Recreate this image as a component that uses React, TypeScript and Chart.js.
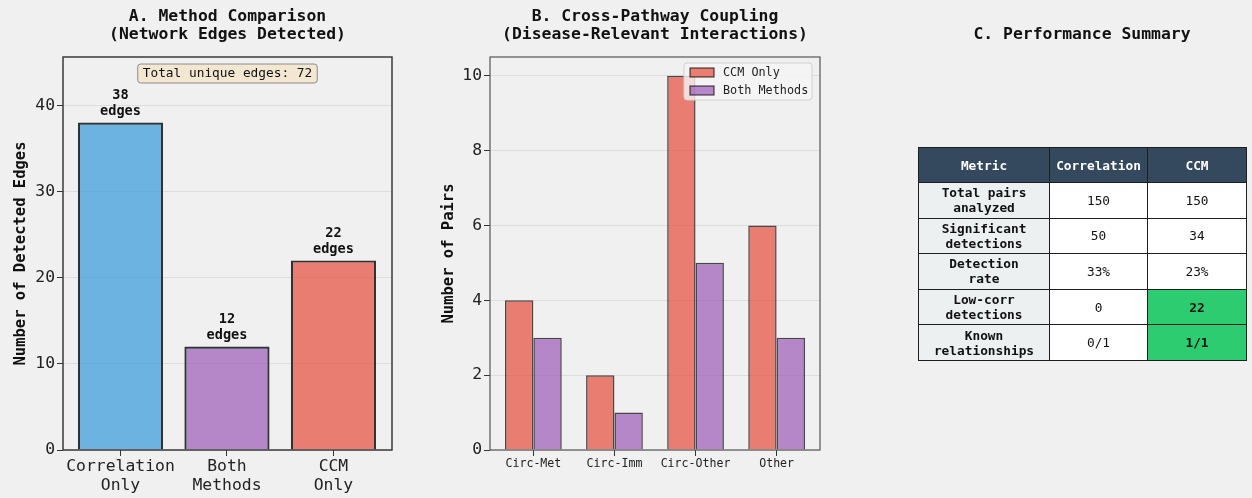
import React, { useEffect, useRef } from "react";
import { Chart, registerables } from "chart.js";

Chart.register(...registerables);

const MONO = '"DejaVu Sans Mono", monospace';
const BG = "#f0f0f0";

// Panel A: edges found by each method
const methodLabels = [["Correlation", "Only"], ["Both", "Methods"], ["CCM", "Only"]];
const methodEdges = [38, 12, 22];
const methodColors = ["rgba(52,152,219,0.7)", "rgba(155,89,182,0.7)", "rgba(231,76,60,0.7)"];
const totalUniqueEdges = 72;

// Panel B: cross-pathway pairs
const pathwayLabels = ["Circ-Met", "Circ-Imm", "Circ-Other", "Other"];
const ccmOnlyPairs = [4, 2, 10, 6];
const bothMethodsPairs = [3, 1, 5, 3];
const seriesNames = ["CCM Only", "Both Methods"];
const seriesColors = ["rgba(231,76,60,0.7)", "rgba(155,89,182,0.7)"];

// Panel C: summary table
const tableHeader = ["Metric", "Correlation", "CCM"];
const tableMetrics = [
  ["Total pairs", "analyzed"],
  ["Significant", "detections"],
  ["Detection", "rate"],
  ["Low-corr", "detections"],
  ["Known", "relationships"],
];
const correlationValues = ["150", "50", "33%", "0", "0/1"];
const ccmValues = ["150", "34", "23%", "22", "1/1"];
const ccmHighlight = [false, false, false, true, true];

// Frame, two-line title and rotated y label for each panel
const panelDecor = {
  id: "panelDecor",
  afterDraw(chart: any, _args: any, opts: any) {
    const { ctx, chartArea: ca } = chart;
    ctx.save();
    ctx.strokeStyle = opts.frameColor;
    ctx.lineWidth = opts.frameWidth;
    ctx.strokeRect(ca.left, ca.top, ca.right - ca.left, ca.bottom - ca.top);
    ctx.fillStyle = "#111";
    ctx.textAlign = "center";
    ctx.textBaseline = "middle";
    ctx.font = `bold 16.4px ${MONO}`;
    const cx = (ca.left + ca.right) / 2;
    (opts.title as string[]).forEach((line, i) => ctx.fillText(line, cx, 17 + i * 18));
    ctx.font = `bold ${opts.yLabelSize}px ${MONO}`;
    ctx.translate(opts.yLabelX, (ca.top + ca.bottom) / 2);
    ctx.rotate(-Math.PI / 2);
    ctx.fillText(opts.yLabel, 0, 0);
    ctx.restore();
  },
};

// Value labels above bars and the total box (panel A)
const edgeAnnotations = {
  id: "edgeAnnotations",
  afterDatasetsDraw(chart: any) {
    const { ctx, chartArea: ca } = chart;
    const meta = chart.getDatasetMeta(0);
    ctx.save();
    ctx.fillStyle = "#111";
    ctx.textAlign = "center";
    ctx.textBaseline = "middle";
    ctx.font = `bold 13.6px ${MONO}`;
    meta.data.forEach((bar: any, i: number) => {
      ctx.fillText(String(methodEdges[i]), bar.x, bar.y - 27);
      ctx.fillText("edges", bar.x, bar.y - 11);
    });
    const text = `Total unique edges: ${totalUniqueEdges}`;
    ctx.font = `12.8px ${MONO}`;
    const w = ctx.measureText(text).width + 10;
    const h = 19;
    const cx = (ca.left + ca.right) / 2;
    const y = ca.top + 7;
    ctx.beginPath();
    ctx.roundRect(cx - w / 2, y, w, h, 3);
    ctx.fillStyle = "rgba(245,222,179,0.5)";
    ctx.fill();
    ctx.strokeStyle = "#8a8a8a";
    ctx.lineWidth = 1;
    ctx.stroke();
    ctx.fillStyle = "#111";
    ctx.fillText(text, cx, y + h / 2 + 0.5);
    ctx.restore();
  },
};

// Legend in the upper right of panel B's plot area
const insideLegend = {
  id: "insideLegend",
  afterDatasetsDraw(chart: any) {
    const { ctx, chartArea: ca } = chart;
    ctx.save();
    const x = ca.right - 136;
    const y = ca.top + 6;
    ctx.beginPath();
    ctx.roundRect(x, y, 128, 37, 3);
    ctx.fillStyle = "rgba(245,245,245,0.8)";
    ctx.fill();
    ctx.strokeStyle = "#d0d0d0";
    ctx.lineWidth = 1;
    ctx.stroke();
    ctx.font = `11.8px ${MONO}`;
    ctx.textAlign = "left";
    ctx.textBaseline = "middle";
    seriesNames.forEach((name, i) => {
      const ry = y + 5 + i * 18;
      ctx.fillStyle = seriesColors[i];
      ctx.fillRect(x + 6, ry, 24, 9);
      ctx.strokeStyle = "rgba(0,0,0,0.7)";
      ctx.lineWidth = 1.2;
      ctx.strokeRect(x + 6, ry, 24, 9);
      ctx.fillStyle = "#222";
      ctx.fillText(name, x + 39, ry + 4.5);
    });
    ctx.restore();
  },
};

function fixedAxis(prop: "width" | "height", size: number) {
  return (scale: any) => {
    scale[prop] = size;
  };
}

function MethodChart() {
  const ref = useRef<HTMLCanvasElement>(null);
  useEffect(() => {
    const chart = new Chart(ref.current!, {
      type: "bar",
      data: {
        datasets: [
          {
            data: methodEdges.map((v, i) => ({ x: i, y: v })),
            backgroundColor: methodColors,
            borderColor: "#2d3436",
            borderWidth: 2.2,
            categoryPercentage: 1,
            barPercentage: 0.8,
          },
        ],
      },
      options: {
        responsive: false,
        devicePixelRatio: 1,
        animation: false,
        layout: { padding: { top: 57, right: 28, left: 0, bottom: 0 } },
        plugins: {
          legend: { display: false },
          tooltip: { enabled: false },
          panelDecor: {
            title: ["A. Method Comparison", "(Network Edges Detected)"],
            yLabel: "Number of Detected Edges",
            yLabelX: 21,
            yLabelSize: 15.5,
            frameColor: "#3a3a3a",
            frameWidth: 1.5,
          },
        } as any,
        scales: {
          x: {
            type: "linear",
            offset: false,
            min: -0.54,
            max: 2.55,
            afterFit: fixedAxis("height", 48),
            afterBuildTicks: (scale: any) => {
              scale.ticks = methodLabels.map((_, i) => ({ value: i }));
            },
            grid: { offset: false, drawOnChartArea: false, tickColor: "#333", tickLength: 6 },
            border: { display: false },
            ticks: {
              callback: (v: any) => methodLabels[v as number],
              font: { family: MONO, size: 16.4, lineHeight: 1.15 },
              color: "#222",
              padding: 1,
              maxRotation: 0,
              autoSkip: false,
            },
          },
          y: {
            min: 0,
            max: 45.6,
            afterFit: fixedAxis("width", 63),
            grid: { color: "rgba(0,0,0,0.08)", tickColor: "#333", tickLength: 6 },
            border: { display: false },
            ticks: {
              stepSize: 10,
              includeBounds: false,
              font: { family: MONO, size: 16.4 },
              color: "#222",
              padding: 2,
            },
          },
        },
      },
      plugins: [panelDecor, edgeAnnotations],
    });
    return () => chart.destroy();
  }, []);
  return (
    <canvas
      ref={ref}
      width={420}
      height={498}
      style={{ position: "absolute", left: 0, top: 0, width: 420, height: 498 }}
    />
  );
}

function PathwayChart() {
  const ref = useRef<HTMLCanvasElement>(null);
  useEffect(() => {
    const series = [ccmOnlyPairs, bothMethodsPairs];
    const chart = new Chart(ref.current!, {
      type: "bar",
      data: {
        datasets: series.map((vals, s) => ({
          label: seriesNames[s],
          data: vals.map((v, i) => ({ x: i, y: v })),
          backgroundColor: seriesColors[s],
          borderColor: "rgba(0,0,0,0.7)",
          borderWidth: 1.5,
          categoryPercentage: 0.7,
          barPercentage: 1,
        })),
      },
      options: {
        responsive: false,
        devicePixelRatio: 1,
        animation: false,
        layout: { padding: { top: 57, right: 30, left: 0, bottom: 0 } },
        plugins: {
          legend: { display: false },
          tooltip: { enabled: false },
          panelDecor: {
            title: ["B. Cross-Pathway Coupling", "(Disease-Relevant Interactions)"],
            yLabel: "Number of Pairs",
            yLabelX: 29,
            yLabelSize: 15.5,
            frameColor: "#555",
            frameWidth: 1.2,
          },
        } as any,
        scales: {
          x: {
            type: "linear",
            offset: false,
            min: -0.535,
            max: 3.535,
            afterFit: fixedAxis("height", 48),
            afterBuildTicks: (scale: any) => {
              scale.ticks = pathwayLabels.map((_, i) => ({ value: i }));
            },
            grid: { offset: false, drawOnChartArea: false, tickColor: "#333", tickLength: 6 },
            border: { display: false },
            ticks: {
              callback: (v: any) => pathwayLabels[v as number],
              font: { family: MONO, size: 11.6 },
              color: "#222",
              padding: 1,
              maxRotation: 0,
              autoSkip: false,
            },
          },
          y: {
            min: 0,
            max: 10.5,
            afterFit: fixedAxis("width", 70),
            grid: { color: "rgba(0,0,0,0.08)", tickColor: "#333", tickLength: 6 },
            border: { display: false },
            ticks: {
              stepSize: 2,
              includeBounds: false,
              font: { family: MONO, size: 16.4 },
              color: "#222",
              padding: 2,
            },
          },
        },
      },
      plugins: [panelDecor, insideLegend],
    });
    return () => chart.destroy();
  }, []);
  return (
    <canvas
      ref={ref}
      width={430}
      height={498}
      style={{ position: "absolute", left: 420, top: 0, width: 430, height: 498 }}
    />
  );
}

function SummaryTable() {
  const border = "1.5px solid #1e1e1e";
  const cell: React.CSSProperties = {
    border,
    textAlign: "center",
    verticalAlign: "middle",
    padding: 0,
    fontFamily: MONO,
    fontSize: 12.8,
    lineHeight: "15px",
    color: "#111",
  };
  return (
    <div style={{ position: "absolute", left: 0, top: 0, width: 1252, height: 498 }}>
      <div
        style={{
          position: "absolute",
          left: 918,
          width: 328,
          top: 24,
          textAlign: "center",
          fontFamily: MONO,
          fontWeight: "bold",
          fontSize: 16.4,
          lineHeight: "20px",
          color: "#111",
        }}
      >
        C. Performance Summary
      </div>
      <table
        style={{
          position: "absolute",
          left: 918,
          top: 147,
          width: 328,
          borderCollapse: "collapse",
          tableLayout: "fixed",
        }}
      >
        <colgroup>
          <col style={{ width: 131 }} />
          <col style={{ width: 98 }} />
          <col style={{ width: 99 }} />
        </colgroup>
        <thead>
          <tr style={{ height: 35 }}>
            {tableHeader.map((h) => (
              <th key={h} style={{ ...cell, background: "#34495e", color: "#fff", fontWeight: "bold" }}>
                {h}
              </th>
            ))}
          </tr>
        </thead>
        <tbody>
          {tableMetrics.map((m, r) => (
            <tr key={r} style={{ height: 35.6 }}>
              <td style={{ ...cell, background: "#ecf0f1", fontWeight: "bold" }}>
                {m[0]}
                <br />
                {m[1]}
              </td>
              <td style={{ ...cell, background: "#fff" }}>{correlationValues[r]}</td>
              <td
                style={{
                  ...cell,
                  background: ccmHighlight[r] ? "#2ecc71" : "#fff",
                  fontWeight: ccmHighlight[r] ? "bold" : "normal",
                }}
              >
                {ccmValues[r]}
              </td>
            </tr>
          ))}
        </tbody>
      </table>
    </div>
  );
}

export default function App() {
  return (
    <div
      style={{
        position: "fixed",
        left: 0,
        top: 0,
        width: 1252,
        height: 498,
        background: BG,
        overflow: "hidden",
      }}
    >
      <MethodChart />
      <PathwayChart />
      <SummaryTable />
    </div>
  );
}
